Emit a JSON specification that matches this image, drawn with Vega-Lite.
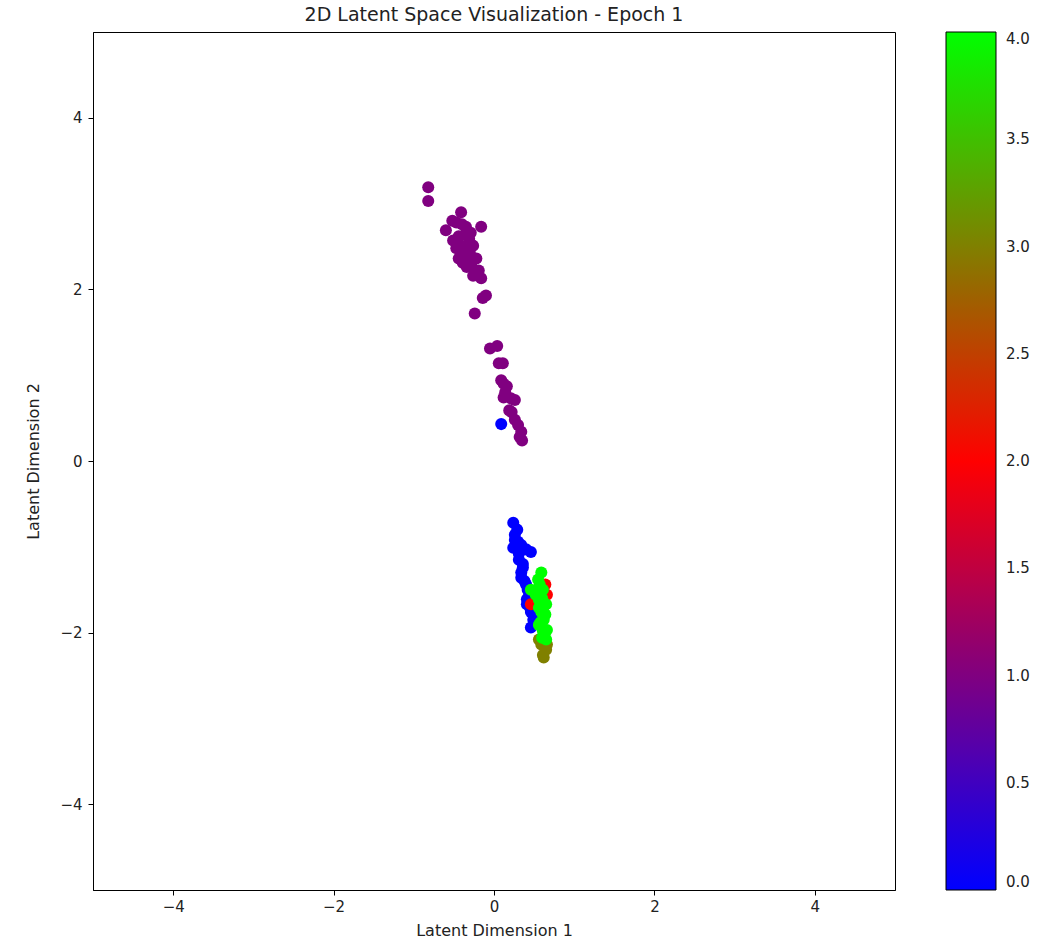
{
  "$schema": "https://vega.github.io/schema/vega-lite/v6.json",
  "width": 802,
  "height": 858,
  "autosize": {"type": "none"},
  "padding": {"left": 93, "top": 32, "right": 161, "bottom": 50},
  "background": "white",
  "title": {"text": "2D Latent Space Visualization - Epoch 1", "fontSize": 19, "font": "DejaVu Sans", "fontWeight": "normal", "color": "#222222", "offset": 7, "anchor": "middle"},
  "config": {
    "view": {"stroke": "black", "strokeWidth": 1},
    "axis": {"grid": false, "domainColor": "black", "tickColor": "black", "labelColor": "#222222", "titleColor": "#222222", "labelFont": "DejaVu Sans", "titleFont": "DejaVu Sans", "labelFontSize": 15, "titleFontSize": 16, "titleFontWeight": "normal", "tickSize": 5},
    "legend": {"labelFont": "DejaVu Sans", "labelFontSize": 15, "labelColor": "#222222"}
  },
  "data": {"values": [
    {"x": 0.24, "y": -0.72, "label": 0},
    {"x": 0.29, "y": -0.80, "label": 0},
    {"x": 0.26, "y": -0.86, "label": 0},
    {"x": 0.26, "y": -0.92, "label": 0},
    {"x": 0.30, "y": -0.94, "label": 0},
    {"x": 0.34, "y": -0.98, "label": 0},
    {"x": 0.24, "y": -1.01, "label": 0},
    {"x": 0.40, "y": -1.03, "label": 0},
    {"x": 0.46, "y": -1.06, "label": 0},
    {"x": 0.31, "y": -1.08, "label": 0},
    {"x": 0.31, "y": -1.15, "label": 0},
    {"x": 0.36, "y": -1.20, "label": 0},
    {"x": 0.36, "y": -1.24, "label": 0},
    {"x": 0.34, "y": -1.30, "label": 0},
    {"x": 0.34, "y": -1.36, "label": 0},
    {"x": 0.38, "y": -1.40, "label": 0},
    {"x": 0.40, "y": -1.44, "label": 0},
    {"x": 0.42, "y": -1.50, "label": 0},
    {"x": 0.44, "y": -1.56, "label": 0},
    {"x": 0.41, "y": -1.61, "label": 0},
    {"x": 0.41, "y": -1.67, "label": 0},
    {"x": 0.45, "y": -1.71, "label": 0},
    {"x": 0.46, "y": -1.76, "label": 0},
    {"x": 0.49, "y": -1.85, "label": 0},
    {"x": 0.46, "y": -1.94, "label": 0},
    {"x": 0.52, "y": -1.62, "label": 0},
    {"x": 0.09, "y": 0.43, "label": 0},
    {"x": -0.82, "y": 3.19, "label": 1},
    {"x": -0.82, "y": 3.03, "label": 1},
    {"x": -0.41, "y": 2.90, "label": 1},
    {"x": -0.60, "y": 2.69, "label": 1},
    {"x": -0.47, "y": 2.78, "label": 1},
    {"x": -0.52, "y": 2.80, "label": 1},
    {"x": -0.16, "y": 2.73, "label": 1},
    {"x": -0.35, "y": 2.73, "label": 1},
    {"x": -0.40, "y": 2.76, "label": 1},
    {"x": -0.29, "y": 2.66, "label": 1},
    {"x": -0.36, "y": 2.64, "label": 1},
    {"x": -0.51, "y": 2.57, "label": 1},
    {"x": -0.44, "y": 2.62, "label": 1},
    {"x": -0.41, "y": 2.51, "label": 1},
    {"x": -0.26, "y": 2.51, "label": 1},
    {"x": -0.33, "y": 2.47, "label": 1},
    {"x": -0.35, "y": 2.40, "label": 1},
    {"x": -0.30, "y": 2.42, "label": 1},
    {"x": -0.22, "y": 2.36, "label": 1},
    {"x": -0.44, "y": 2.36, "label": 1},
    {"x": -0.38, "y": 2.44, "label": 1},
    {"x": -0.29, "y": 2.28, "label": 1},
    {"x": -0.34, "y": 2.26, "label": 1},
    {"x": -0.19, "y": 2.22, "label": 1},
    {"x": -0.26, "y": 2.16, "label": 1},
    {"x": -0.23, "y": 2.20, "label": 1},
    {"x": -0.16, "y": 2.13, "label": 1},
    {"x": -0.31, "y": 2.59, "label": 1},
    {"x": -0.39, "y": 2.31, "label": 1},
    {"x": -0.47, "y": 2.48, "label": 1},
    {"x": -0.27, "y": 2.33, "label": 1},
    {"x": -0.10, "y": 1.93, "label": 1},
    {"x": -0.14, "y": 1.90, "label": 1},
    {"x": -0.24, "y": 1.72, "label": 1},
    {"x": -0.05, "y": 1.31, "label": 1},
    {"x": 0.04, "y": 1.34, "label": 1},
    {"x": 0.06, "y": 1.14, "label": 1},
    {"x": 0.11, "y": 1.14, "label": 1},
    {"x": 0.09, "y": 0.94, "label": 1},
    {"x": 0.12, "y": 0.90, "label": 1},
    {"x": 0.16, "y": 0.87, "label": 1},
    {"x": 0.14, "y": 0.80, "label": 1},
    {"x": 0.12, "y": 0.74, "label": 1},
    {"x": 0.21, "y": 0.73, "label": 1},
    {"x": 0.26, "y": 0.71, "label": 1},
    {"x": 0.19, "y": 0.59, "label": 1},
    {"x": 0.22, "y": 0.57, "label": 1},
    {"x": 0.26, "y": 0.48, "label": 1},
    {"x": 0.30, "y": 0.42, "label": 1},
    {"x": 0.34, "y": 0.34, "label": 1},
    {"x": 0.35, "y": 0.24, "label": 1},
    {"x": 0.32, "y": 0.28, "label": 1},
    {"x": 0.64, "y": -1.44, "label": 2},
    {"x": 0.66, "y": -1.56, "label": 2},
    {"x": 0.46, "y": -1.67, "label": 2},
    {"x": 0.61, "y": -1.72, "label": 2},
    {"x": 0.59, "y": -2.14, "label": 3},
    {"x": 0.65, "y": -2.20, "label": 3},
    {"x": 0.61, "y": -2.26, "label": 3},
    {"x": 0.56, "y": -2.08, "label": 3},
    {"x": 0.66, "y": -2.14, "label": 3},
    {"x": 0.62, "y": -2.29, "label": 3},
    {"x": 0.59, "y": -1.30, "label": 4},
    {"x": 0.55, "y": -1.38, "label": 4},
    {"x": 0.57, "y": -1.44, "label": 4},
    {"x": 0.61, "y": -1.50, "label": 4},
    {"x": 0.46, "y": -1.50, "label": 4},
    {"x": 0.56, "y": -1.62, "label": 4},
    {"x": 0.60, "y": -1.60, "label": 4},
    {"x": 0.65, "y": -1.67, "label": 4},
    {"x": 0.59, "y": -1.76, "label": 4},
    {"x": 0.56, "y": -1.71, "label": 4},
    {"x": 0.62, "y": -1.85, "label": 4},
    {"x": 0.58, "y": -1.88, "label": 4},
    {"x": 0.66, "y": -1.97, "label": 4},
    {"x": 0.61, "y": -1.98, "label": 4},
    {"x": 0.60, "y": -2.06, "label": 4},
    {"x": 0.65, "y": -2.08, "label": 4},
    {"x": 0.52, "y": -1.56, "label": 4},
    {"x": 0.56, "y": -1.91, "label": 4},
    {"x": 0.64, "y": -1.79, "label": 4}
  ]},
  "mark": {"type": "circle", "size": 145, "opacity": 1},
  "encoding": {
    "x": {"field": "x", "type": "quantitative", "scale": {"domain": [-5, 5], "nice": false, "zero": false}, "axis": {"values": [-4, -2, 0, 2, 4], "format": "d", "title": "Latent Dimension 1", "titlePadding": 8, "labelPadding": 4}},
    "y": {"field": "y", "type": "quantitative", "scale": {"domain": [-5, 5], "nice": false, "zero": false}, "axis": {"values": [-4, -2, 0, 2, 4], "format": "d", "title": "Latent Dimension 2", "titlePadding": 18, "labelPadding": 6}},
    "color": {"field": "label", "type": "quantitative",
      "scale": {"domain": [0, 2, 4], "range": ["#0000ff", "#ff0000", "#00ff00"], "interpolate": "rgb"},
      "legend": {"title": null, "orient": "right", "offset": 51, "padding": 0, "direction": "vertical", "gradientLength": 858, "gradientThickness": 50, "gradientStrokeColor": "black", "gradientStrokeWidth": 1, "values": [0, 0.5, 1, 1.5, 2, 2.5, 3, 3.5, 4], "format": ".1f", "labelOffset": 10,
        "encode": {"labels": {"update": {"dy": {"signal": "datum.value >= 4 ? -6 : datum.value <= 0 ? 9 : 0"}}}}}}
  }
}
